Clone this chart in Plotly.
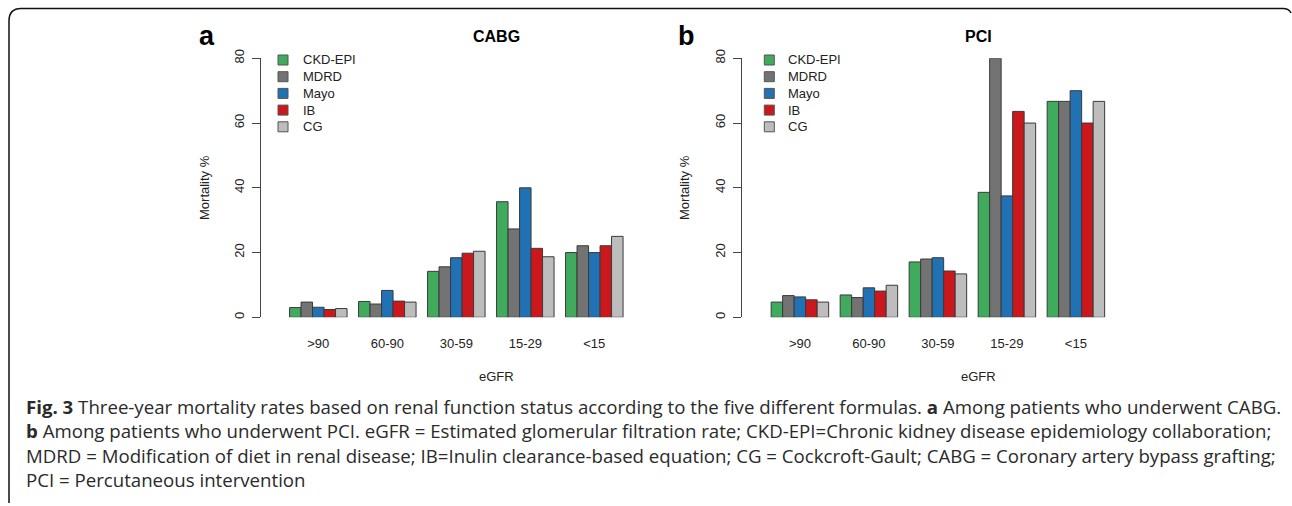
import plotly.graph_objects as go

# ---------------- data ----------------
categories = [">90", "60-90", "30-59", "15-29", "<15"]
series = ["CKD-EPI", "MDRD", "Mayo", "IB", "CG"]
colors = ["#41AB5D", "#737373", "#2171B5", "#CB181D", "#BDBDBD"]

cabg_ckdepi = [3.0, 4.9, 14.2, 35.7, 20.0]
cabg_mdrd = [4.7, 4.1, 15.6, 27.3, 22.1]
cabg_mayo = [3.1, 8.3, 18.4, 40.0, 20.0]
cabg_ib = [2.4, 5.0, 19.8, 21.3, 22.1]
cabg_cg = [2.7, 4.7, 20.4, 18.7, 25.0]

pci_ckdepi = [4.7, 6.9, 17.1, 38.6, 66.7]
pci_mdrd = [6.7, 6.1, 18.0, 80.0, 66.7]
pci_mayo = [6.3, 9.1, 18.4, 37.5, 70.0]
pci_ib = [5.4, 8.1, 14.3, 63.6, 60.0]
pci_cg = [4.7, 9.9, 13.4, 60.0, 66.7]

y_ticks = [0, 20, 40, 60, 80]

caption_lines = [
    "<b>Fig. 3</b> Three-year mortality rates based on renal function status according to the five different formulas. <b>a</b> Among patients who underwent CABG.",
    "<b>b</b> Among patients who underwent PCI. eGFR = Estimated glomerular filtration rate; CKD-EPI=Chronic kidney disease epidemiology collaboration;",
    "MDRD = Modification of diet in renal disease; IB=Inulin clearance-based equation; CG = Cockcroft-Gault; CABG = Coronary artery bypass grafting;",
    "PCI = Percutaneous intervention",
]

# ---------------- layout helpers ----------------
W, H = 1292, 506
def px(x):
    return x / W
def py(y):
    return 1 - y / H

FONT = "Liberation Sans, Arial, Helvetica, sans-serif"
TXT = "#222222"

fig = go.Figure()

cabg = [cabg_ckdepi, cabg_mdrd, cabg_mayo, cabg_ib, cabg_cg]
pci = [pci_ckdepi, pci_mdrd, pci_mayo, pci_ib, pci_cg]

for name, col, vals in zip(series, colors, cabg):
    fig.add_trace(go.Bar(x=categories, y=vals, name=name, marker_color=col,
                         marker_line=dict(color="#3a3a3a", width=1),
                         xaxis="x", yaxis="y", showlegend=False, cliponaxis=False))
for name, col, vals in zip(series, colors, pci):
    fig.add_trace(go.Bar(x=categories, y=vals, name=name, marker_color=col,
                         marker_line=dict(color="#3a3a3a", width=1),
                         xaxis="x2", yaxis="y2", showlegend=False, cliponaxis=False))

ydom = [py(317.3), py(58.3)]
xr = [-0.835, 4.6]

xcommon = dict(range=xr, showline=False, showgrid=False, zeroline=False, ticks="",
               tickfont=dict(family=FONT, size=13, color=TXT), ticklabelstandoff=17,
               fixedrange=True)
ycommon = dict(range=[0, 80], tickvals=y_ticks, showline=True, linecolor="#444444",
               linewidth=1, ticks="outside", ticklen=8, tickcolor="#444444",
               tickangle=-90, showgrid=False, zeroline=False, fixedrange=True,
               ticklabelstandoff=3,
               tickfont=dict(family=FONT, size=13, color=TXT))

fig.update_layout(
    width=W, height=H,
    margin=dict(l=0, r=0, t=0, b=0, autoexpand=False),
    paper_bgcolor="white", plot_bgcolor="white",
    barmode="group", bargap=1/6, bargroupgap=0,
    xaxis=dict(domain=[px(260.7), px(635.7)], anchor="y", **xcommon),
    yaxis=dict(domain=ydom, anchor="x", **ycommon),
    xaxis2=dict(domain=[px(742.3), px(1117.3)], anchor="y2", **xcommon),
    yaxis2=dict(domain=ydom, anchor="x2", **ycommon),
    showlegend=False,
)

ann = []
shapes = []

# panel letters, titles, axis titles
for letter, lx, title, tx, ytx in [("a", 206.7, "CABG", 496.7, 204), ("b", 686.7, "PCI", 978.3, 684)]:
    ann.append(dict(text="<b>%s</b>" % letter, x=px(lx), y=py(36), xref="paper", yref="paper",
                    showarrow=False, xanchor="center", yanchor="middle",
                    font=dict(family=FONT, size=27, color="#000000")))
    ann.append(dict(text="<b>%s</b>" % title, x=px(tx), y=py(36), xref="paper", yref="paper",
                    showarrow=False, xanchor="center", yanchor="middle",
                    font=dict(family=FONT, size=16, color="#000000")))
    ann.append(dict(text="eGFR", x=px(tx), y=py(376), xref="paper", yref="paper",
                    showarrow=False, xanchor="center", yanchor="middle",
                    font=dict(family=FONT, size=13, color=TXT)))
    ann.append(dict(text="Mortality %", x=px(ytx), y=py(188), xref="paper", yref="paper",
                    showarrow=False, xanchor="center", yanchor="middle", textangle=-90,
                    font=dict(family=FONT, size=13, color=TXT)))

# legends (built from series names / colors)
for sq_x, txt_x in [(283.0, 300.7), (769.3, 786.0)]:
    for i, (name, col) in enumerate(zip(series, colors)):
        yc = 60 + 16.7 * i
        shapes.append(dict(type="rect", xref="paper", yref="paper",
                           x0=px(sq_x - 5), x1=px(sq_x + 5), y0=py(yc + 5), y1=py(yc - 5),
                           fillcolor=col, line=dict(color="#555555", width=1)))
        ann.append(dict(text=name, x=px(txt_x), y=py(yc), xref="paper", yref="paper",
                        showarrow=False, xanchor="left", yanchor="middle",
                        font=dict(family=FONT, size=13, color=TXT)))

# caption
for i, line in enumerate(caption_lines):
    ann.append(dict(text=line, x=px(24), y=py(406 + 24.6 * i), xref="paper", yref="paper",
                    showarrow=False, xanchor="left", yanchor="middle",
                    font=dict(family="Open Sans, sans-serif", size=18.65, color="#2a2a2a")))

# frame (rounded box edges)
path = "M %f,%f L %f,%f Q %f,%f %f,%f L %f,%f Q %f,%f %f,%f" % (
    px(9), py(503), px(9), py(21), px(9), py(8.5), px(21), py(8.5),
    px(1283), py(8.5), px(1289), py(8.5), px(1291), py(13))
shapes.append(dict(type="path", path=path, xref="paper", yref="paper",
                   line=dict(color="#111111", width=1.5)))

fig.update_layout(annotations=ann, shapes=shapes)

fig.write_html("out.html", config={"displayModeBar": False},
               post_script="document.body.style.margin='0';document.body.style.overflow='hidden';")
